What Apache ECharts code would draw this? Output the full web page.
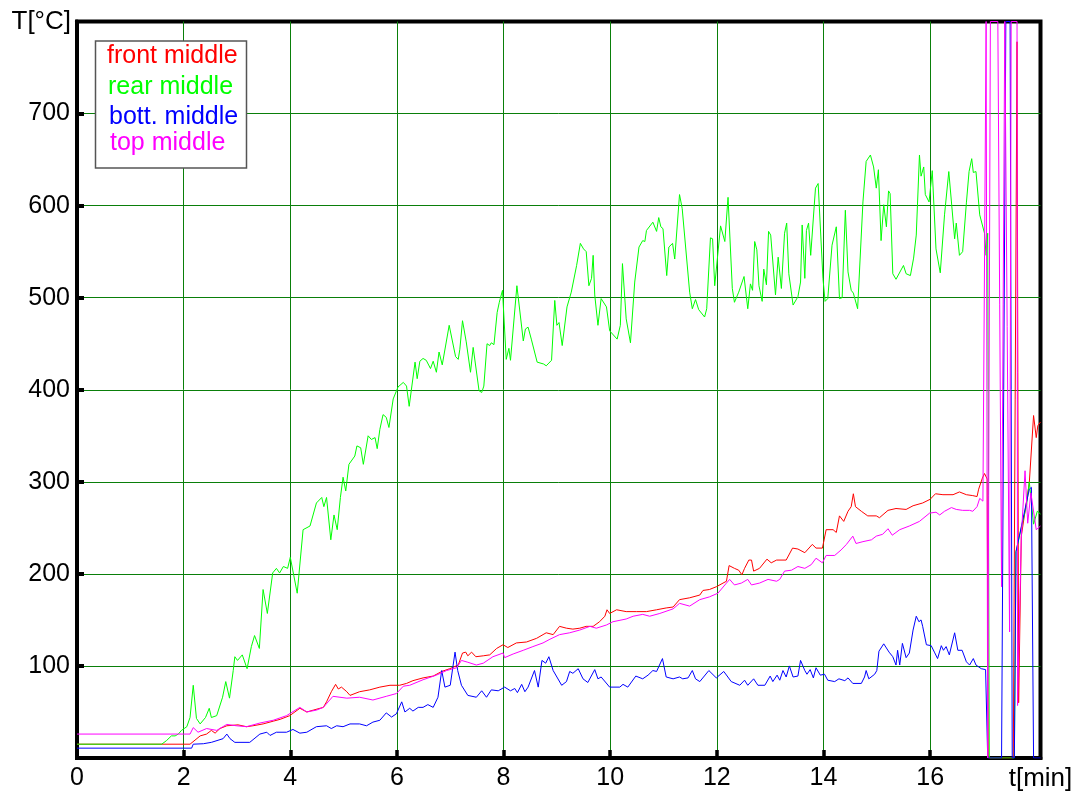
<!DOCTYPE html>
<html><head><meta charset="utf-8">
<script src="https://cdn.jsdelivr.net/npm/echarts@6/dist/echarts.min.js"></script>
<style>html,body{margin:0;padding:0;background:#fff}#c{width:1079px;height:794px}</style>
</head><body><div id="c"></div>
<script>
const seriesNames = ['front middle', 'rear middle', 'bott. middle', 'top middle'];
const seriesColors = ['#ff0000', '#00ff00', '#0000ff', '#ff00ff'];
const xTicks = [0, 2, 4, 6, 8, 10, 12, 14, 16];
const yTicks = [100, 200, 300, 400, 500, 600, 700];
const xMax = 18.07;
const yMax = 800;

// [time in min, temperature in °C]
const frontMiddle = [
[0,15],[2.12,15],[2.15,17],[2.31,24],[2.43,26],[2.52,30],[2.59,27],[2.68,32],[2.81,35],[3.02,36],[3.18,34],[3.30,35],[3.49,37],[3.68,40],[3.81,42],[3.99,46],[4.18,54],[4.31,50],[4.43,52],[4.62,55],[4.68,61],[4.77,72],[4.85,80],[4.90,75],[4.96,77],[5.06,72],[5.12,68],[5.30,72],[5.49,74],[5.68,77],[5.87,79],[6.05,79],[6.18,81],[6.30,84],[6.49,87],[6.68,89],[6.84,94],[6.99,97],[7.15,101],[7.23,114],[7.29,115],[7.33,111],[7.40,115],[7.48,110],[7.62,111],[7.74,112],[7.87,119],[7.99,123],[8.08,120],[8.24,125],[8.43,126],[8.62,130],[8.74,134],[8.80,136],[8.93,134],[9.05,143],[9.18,141],[9.30,140],[9.43,141],[9.55,143],[9.68,143],[9.80,148],[9.90,154],[9.94,161],[9.99,157],[10.12,161],[10.30,159],[10.49,159],[10.68,159],[10.87,161],[11.05,163],[11.18,164],[11.30,172],[11.49,174],[11.68,177],[11.74,182],[11.86,183],[11.99,186],[12.18,192],[12.23,209],[12.33,206],[12.41,204],[12.47,199],[12.52,206],[12.60,215],[12.65,215],[12.69,203],[12.80,206],[12.94,216],[13.02,212],[13.12,215],[13.30,215],[13.42,228],[13.52,227],[13.65,223],[13.79,232],[13.86,228],[13.98,228],[14.05,248],[14.18,248],[14.24,245],[14.30,263],[14.38,257],[14.46,268],[14.52,273],[14.56,287],[14.60,273],[14.71,268],[14.83,263],[14.99,263],[15.05,261],[15.21,269],[15.36,271],[15.55,270],[15.68,274],[15.86,277],[16.00,281],[16.10,287],[16.24,286],[16.43,286],[16.55,289],[16.68,286],[16.80,285],[16.88,284],[16.91,292],[16.98,304],[17.02,309],[17.07,303],[17.09,0],[17.56,0],[17.63,778],[17.66,60],[17.71,241],[17.86,299],[17.94,372],[17.99,348],[18.02,361],[18.07,365]
];
const rearMiddle = [
[0,15],[1.59,15],[1.68,19],[1.77,24],[1.84,24],[1.90,26],[1.96,30],[2.01,32],[2.06,34],[2.12,44],[2.18,79],[2.24,43],[2.31,37],[2.41,44],[2.48,54],[2.52,44],[2.62,46],[2.73,66],[2.79,83],[2.86,65],[2.93,95],[2.96,110],[3.01,106],[3.10,112],[3.19,97],[3.27,121],[3.33,133],[3.42,119],[3.49,183],[3.57,157],[3.67,201],[3.74,206],[3.80,201],[3.87,208],[3.95,206],[4.00,218],[4.13,179],[4.24,248],[4.37,252],[4.49,277],[4.59,283],[4.63,273],[4.68,283],[4.76,237],[4.82,264],[4.88,248],[4.94,283],[4.99,305],[5.04,290],[5.10,319],[5.21,328],[5.25,339],[5.32,337],[5.37,319],[5.46,350],[5.52,346],[5.59,348],[5.63,336],[5.68,357],[5.74,373],[5.80,370],[5.85,359],[5.93,390],[6.02,403],[6.12,408],[6.18,404],[6.23,382],[6.34,430],[6.38,412],[6.43,431],[6.49,434],[6.55,432],[6.63,423],[6.68,431],[6.74,419],[6.79,441],[6.85,427],[6.98,470],[7.10,436],[7.15,433],[7.18,444],[7.23,475],[7.30,452],[7.38,419],[7.43,446],[7.54,399],[7.59,397],[7.63,404],[7.69,450],[7.74,448],[7.77,451],[7.82,449],[7.88,484],[7.92,495],[7.98,508],[8.05,433],[8.10,445],[8.13,432],[8.25,513],[8.37,453],[8.41,466],[8.46,468],[8.52,455],[8.63,430],[8.75,428],[8.80,426],[8.85,429],[8.90,432],[8.96,497],[9.00,470],[9.04,473],[9.10,448],[9.19,490],[9.27,506],[9.37,535],[9.44,559],[9.50,553],[9.55,550],[9.60,513],[9.65,521],[9.68,546],[9.71,503],[9.77,470],[9.83,499],[9.93,490],[9.99,464],[10.13,455],[10.19,470],[10.23,537],[10.30,477],[10.38,451],[10.46,517],[10.54,555],[10.61,562],[10.65,561],[10.68,573],[10.80,582],[10.87,572],[10.91,587],[10.95,577],[10.99,575],[11.06,524],[11.10,555],[11.17,559],[11.21,542],[11.30,612],[11.35,597],[11.49,506],[11.54,488],[11.60,498],[11.66,487],[11.77,479],[11.81,488],[11.88,565],[11.92,564],[11.96,513],[12.07,578],[12.15,561],[12.21,609],[12.29,510],[12.33,495],[12.41,506],[12.51,523],[12.58,488],[12.63,515],[12.67,508],[12.71,561],[12.75,552],[12.79,513],[12.85,496],[12.88,531],[12.93,514],[12.97,572],[13.01,568],[13.10,503],[13.15,544],[13.21,510],[13.27,570],[13.31,581],[13.35,526],[13.43,492],[13.46,490],[13.52,501],[13.57,517],[13.60,579],[13.65,521],[13.68,573],[13.72,581],[13.76,546],[13.79,548],[13.85,619],[13.90,624],[13.99,521],[14.03,496],[14.08,499],[14.16,557],[14.24,577],[14.30,499],[14.35,500],[14.41,595],[14.46,528],[14.52,508],[14.56,505],[14.64,488],[14.74,604],[14.80,648],[14.88,655],[14.94,642],[14.99,619],[15.03,639],[15.08,562],[15.13,601],[15.18,577],[15.22,616],[15.25,613],[15.30,526],[15.36,520],[15.50,535],[15.55,526],[15.63,524],[15.69,543],[15.74,568],[15.80,655],[15.83,632],[15.88,642],[15.91,612],[15.98,604],[16.04,638],[16.11,553],[16.19,527],[16.27,590],[16.35,637],[16.46,564],[16.49,581],[16.55,546],[16.61,550],[16.68,603],[16.73,637],[16.78,651],[16.81,636],[16.86,637],[16.93,590],[17.02,570],[17.05,546],[17.08,570],[17.11,0],[17.58,0],[17.61,224],[17.71,250],[17.81,275],[17.86,300],[17.94,254],[18.01,268],[18.07,265]
];
const bottMiddle = [
[0,10.7],[2.15,10.7],[2.18,15],[2.37,15.5],[2.52,17],[2.74,21],[2.81,26],[2.87,21],[2.96,17],[3.24,17],[3.43,26],[3.56,28],[3.62,24.5],[3.74,28],[3.93,28],[4.05,31],[4.18,27],[4.31,28],[4.49,34],[4.68,35],[4.77,32],[4.87,35],[4.99,34],[5.12,37],[5.30,37],[5.43,35],[5.55,39],[5.68,41],[5.80,49],[5.90,44.5],[5.99,48],[6.09,61],[6.15,50],[6.24,54],[6.30,51],[6.40,55],[6.49,55],[6.58,58],[6.68,55],[6.77,66],[6.84,95],[6.90,77],[7.00,79],[7.09,115],[7.14,95],[7.21,79],[7.33,68],[7.49,66],[7.59,73],[7.68,66],[7.77,74],[7.90,73],[8.02,77],[8.13,73],[8.21,75.5],[8.26,71],[8.34,80],[8.40,72],[8.46,77],[8.58,95],[8.65,77],[8.72,106],[8.79,103],[8.85,110],[8.93,95],[9.09,79],[9.18,83],[9.24,94],[9.30,92],[9.40,97],[9.49,86],[9.58,82],[9.71,96],[9.77,86],[9.83,88],[9.99,77],[10.18,77],[10.24,80],[10.33,77],[10.48,89],[10.61,86],[10.71,90],[10.80,95],[10.87,94],[10.98,108],[11.05,88],[11.18,86],[11.30,88],[11.36,86],[11.46,87],[11.54,95],[11.60,86],[11.68,83],[11.85,95],[11.99,87],[12.13,94],[12.27,83],[12.43,79],[12.52,84.5],[12.58,79],[12.69,86],[12.77,79],[12.90,79],[13.00,89],[13.05,83],[13.13,90],[13.18,84.5],[13.24,95],[13.30,88],[13.36,100],[13.43,88],[13.52,89],[13.57,106],[13.65,95],[13.69,91],[13.75,96],[13.81,87],[13.86,98],[13.94,90],[14.02,91],[14.08,84.5],[14.21,83],[14.29,86],[14.40,84],[14.46,87],[14.55,81],[14.71,81],[14.77,88],[14.80,95],[14.85,86],[14.96,91],[15.00,95],[15.04,116],[15.13,124],[15.23,115],[15.30,110],[15.36,101],[15.39,117],[15.43,101],[15.48,124.5],[15.55,109],[15.61,114],[15.68,139],[15.74,154],[15.79,148],[15.83,150],[15.86,143],[15.93,123],[16.02,122],[16.08,115],[16.14,108],[16.21,122],[16.25,117],[16.30,121],[16.36,112],[16.46,136],[16.52,117],[16.60,117],[16.68,104.5],[16.74,101],[16.81,108],[16.86,101],[16.96,97],[17.04,96],[17.08,0],[17.34,0],[17.42,800],[17.50,800],[17.54,0],[17.58,0],[17.61,224],[17.86,292],[17.90,294],[17.94,0],[18.07,0]
];
const topMiddle = [
[0,26],[2.12,26],[2.18,33],[2.27,28],[2.43,32],[2.62,30],[2.81,36.5],[2.99,35],[3.18,34],[3.43,38],[3.68,41],[3.93,46],[4.18,55],[4.31,50],[4.49,52],[4.62,55],[4.80,67],[5.06,65],[5.30,66],[5.55,63],[5.80,67],[5.99,70],[6.12,78],[6.24,79],[6.49,85],[6.74,90],[6.93,95],[7.12,98],[7.21,106],[7.33,104],[7.49,101],[7.62,103],[7.80,110],[7.99,114],[8.02,109],[8.18,113],[8.37,117],[8.55,121],[8.74,125],[8.87,129],[9.05,134],[9.24,136],[9.43,139],[9.62,143],[9.74,141],[9.93,144.5],[10.05,148],[10.30,151],[10.43,154],[10.61,156],[10.74,154],[10.93,157],[11.18,162],[11.30,168],[11.49,165],[11.68,172],[11.86,175],[12.02,179],[12.18,190],[12.24,194],[12.33,188],[12.46,190],[12.58,194],[12.65,188],[12.80,190],[12.96,194],[13.12,192],[13.18,194],[13.27,203],[13.40,204],[13.52,208],[13.65,206],[13.77,210],[13.86,217],[13.98,212],[14.05,220],[14.21,220],[14.33,226],[14.43,232],[14.55,241],[14.61,233],[14.74,235],[14.90,237],[14.99,241],[15.11,243],[15.21,249],[15.29,242],[15.43,248],[15.61,252],[15.80,257],[15.99,266],[16.11,267],[16.18,264],[16.27,268],[16.40,272],[16.49,270],[16.61,269],[16.74,269],[16.80,268],[16.88,273],[16.93,282],[16.99,279],[17.05,800],[17.08,0],[17.13,800],[17.27,800],[17.34,186],[17.40,800],[17.49,137],[17.52,800],[17.63,800],[17.64,57],[17.71,240],[17.78,312],[17.83,255],[17.89,288],[17.99,248],[18.07,252]
];
const seriesData = [frontMiddle, rearMiddle, bottMiddle, topMiddle];

const FONT = '"Liberation Sans", Arial, Helvetica, sans-serif';
const chart = echarts.init(document.getElementById('c'), null, {renderer: 'canvas'});

const legendX = [107, 108, 109, 110];
const legendY = [56, 87, 117, 143];

chart.setOption({
  animation: false,
  backgroundColor: '#ffffff',
  grid: {
    left: 77, right: 38.5, top: 21.5, bottom: 36,
    show: true, borderColor: '#000', borderWidth: 4, backgroundColor: 'transparent'
  },
  xAxis: {
    type: 'value', min: 0, max: xMax, interval: 2,
    name: 't[min]', nameLocation: 'end', nameGap: 0,
    nameTextStyle: {fontFamily: FONT, fontSize: 26, color: '#000', align: 'center', verticalAlign: 'top', padding: [8, 0, 0, 0]},
    axisLine: {show: true, onZero: false, lineStyle: {color: '#000', width: 4}},
    axisTick: {show: true, inside: true, length: 8, customValues: xTicks, lineStyle: {color: '#000', width: 3.5}},
    axisLabel: {customValues: xTicks, fontFamily: FONT, fontSize: 25, color: '#000', margin: 8,
      formatter: v => xTicks.indexOf(v) >= 0 ? String(v) : ''},
    splitLine: {show: true, lineStyle: {color: '#0a7f0a', width: 1}}
  },
  yAxis: {
    type: 'value', min: 0, max: yMax, interval: 100,
    name: 'T[°C]', nameLocation: 'end', nameGap: 0,
    nameTextStyle: {fontFamily: FONT, fontSize: 26, color: '#000', align: 'right', verticalAlign: 'middle', padding: [0, 6, 0, 0]},
    axisLine: {show: true, onZero: false, lineStyle: {color: '#000', width: 4}},
    axisTick: {show: true, inside: true, length: 7, customValues: yTicks, lineStyle: {color: '#000', width: 4}},
    axisLabel: {customValues: yTicks, fontFamily: FONT, fontSize: 25, color: '#000', margin: 7,
      formatter: v => yTicks.indexOf(v) >= 0 ? String(v) : ''},
    splitLine: {show: true, lineStyle: {color: '#0a7f0a', width: 1}}
  },
  series: seriesNames.map((n, i) => ({
    name: n, type: 'line', data: seriesData[i], showSymbol: false, symbol: 'none',
    lineStyle: {color: seriesColors[i], width: 1}, itemStyle: {color: seriesColors[i]},
    clip: true, z: 2, silent: true
  })),
  graphic: [
    {type: 'rect', z: 100, shape: {x: 95.5, y: 41, width: 151, height: 127},
     style: {fill: '#fff', stroke: '#555', lineWidth: 1.5}}
  ].concat(seriesNames.map((n, i) => ({
    type: 'text', z: 101, x: legendX[i], y: legendY[i],
    style: {text: n, fill: seriesColors[i], font: '25px ' + FONT, verticalAlign: 'middle', align: 'left'}
  })))
});
</script>
</body></html>
